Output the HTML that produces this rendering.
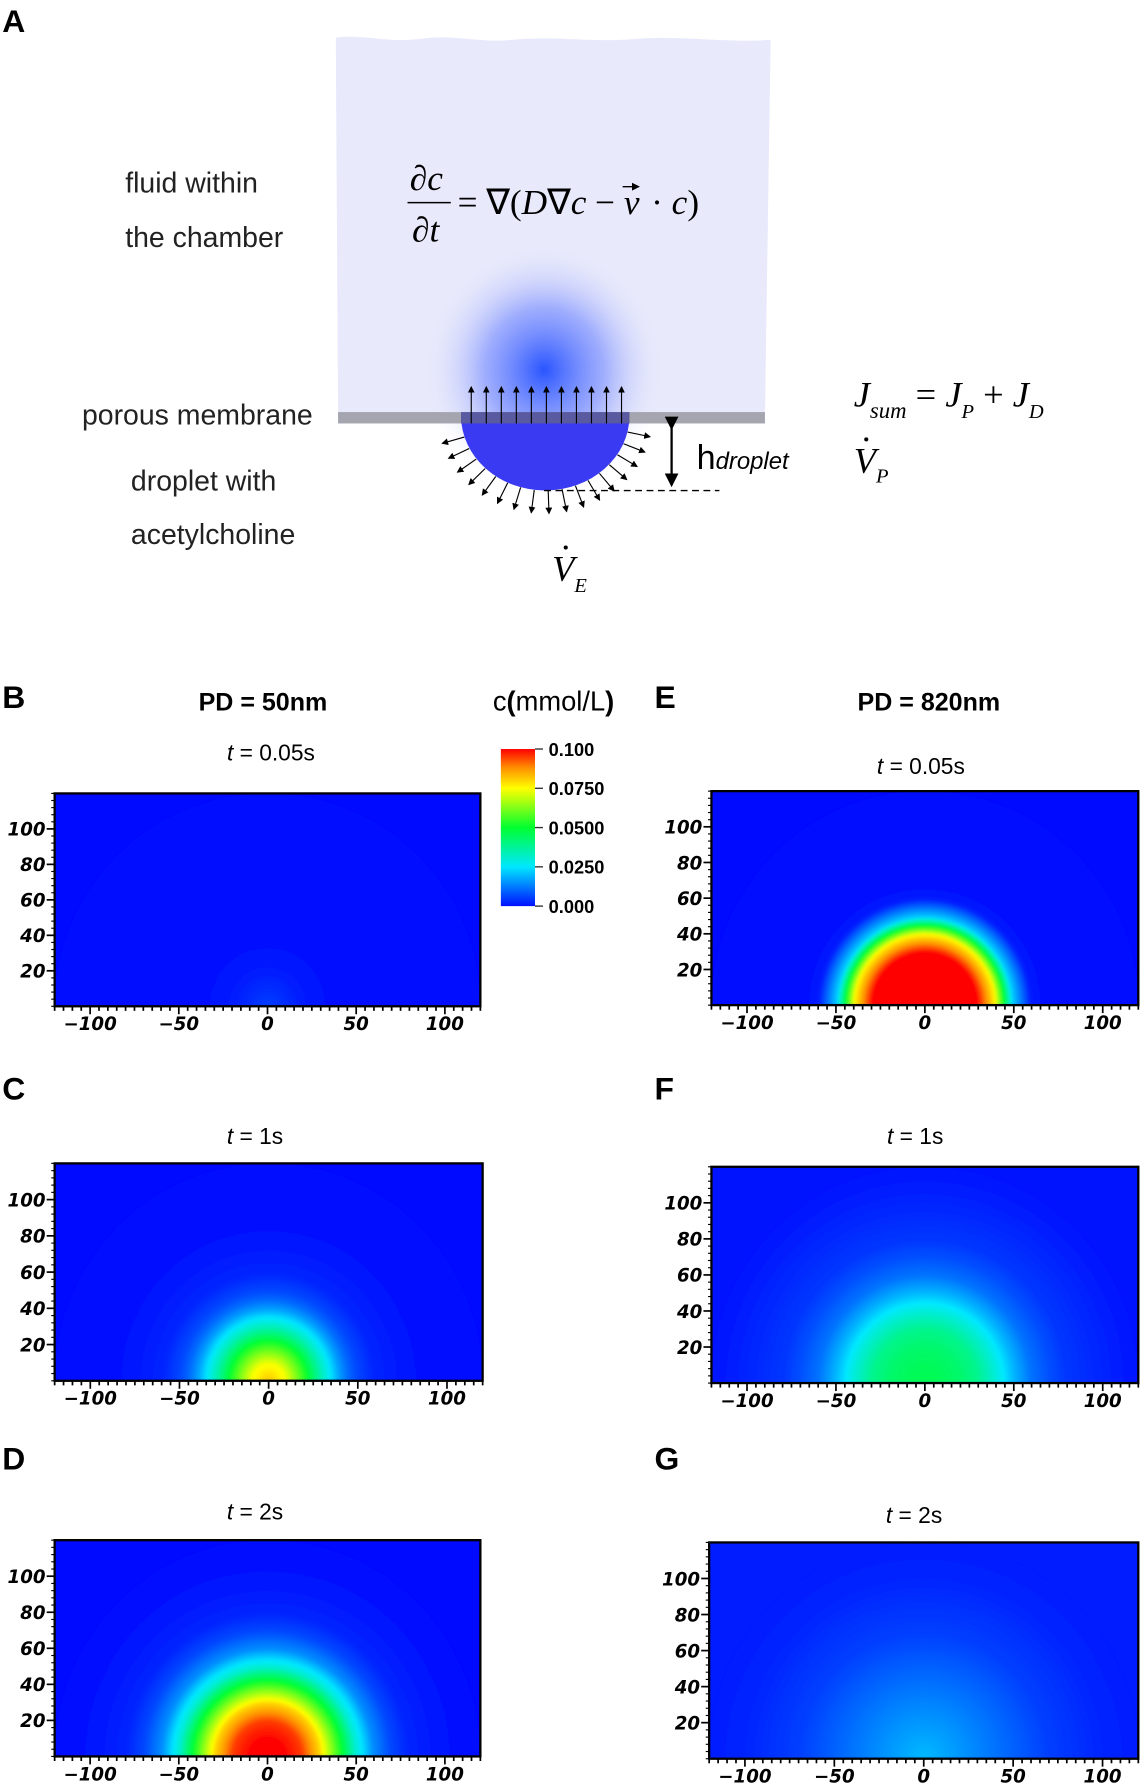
<!DOCTYPE html>
<html><head><meta charset="utf-8"><style>
html,body{margin:0;padding:0;background:#fff;overflow:hidden;width:1144px;height:1789px;}
svg{display:block;}
</style></head><body>
<svg id="fig" xmlns="http://www.w3.org/2000/svg" width="1144" height="1789" viewBox="0 0 1005 1571.6" preserveAspectRatio="none" overflow="hidden">
<defs>
<radialGradient id="glow" cx="0.5" cy="0.5" r="0.5">
<stop offset="0" stop-color="#2a55ff" stop-opacity="1"/>
<stop offset="0.5" stop-color="#6f86ff" stop-opacity="0.6"/>
<stop offset="1" stop-color="#e8e9fb" stop-opacity="0"/>
</radialGradient>
<linearGradient id="cbar" x1="0" y1="1" x2="0" y2="0">
<stop offset="0" stop-color="#0010ff"/>
<stop offset="0.25" stop-color="#00e8ff"/>
<stop offset="0.5" stop-color="#00ff30"/>
<stop offset="0.75" stop-color="#ffff00"/>
<stop offset="0.88" stop-color="#ff9000"/>
<stop offset="1" stop-color="#ff0000"/>
</linearGradient>
<marker id="ah" markerWidth="6" markerHeight="6" refX="5" refY="3" orient="auto"><path d="M0,0 L6,3 L0,6 z" fill="#000"/></marker>
<filter id="soft"><feGaussianBlur stdDeviation="1.2"/></filter>
</defs>

<g>
<text x="2" y="28" font-family="Liberation Sans, sans-serif" font-weight="bold" font-size="28">A</text>
<path d="M295,33 C320,30 340,38 370,34 C400,30 420,38 450,35 C490,31 520,38 560,34 C600,31 640,38 677,35 L672,365 L297,365 Z" fill="#e8e9fb"/>
<ellipse cx="478" cy="325" rx="105" ry="110" fill="url(#glow)"/>
<rect x="297" y="362" width="375" height="10" fill="#a5a5b0"/>
<path d="M405,365 A73,65 0 0 0 553,365 Z" fill="#3a3af2"/>
<rect x="405" y="362" width="148" height="10" fill="#5a5aa0"/>
<g id="uparrows" stroke="#000" stroke-width="1"></g>
<g id="radarrows" stroke="#000" stroke-width="1"></g>
<line x1="590" y1="376" x2="590" y2="426" stroke="#000" stroke-width="2" marker-end="url(#ah)" marker-start="url(#ah)"/>
<line x1="478" y1="431" x2="632" y2="431" stroke="#000" stroke-width="1.2" stroke-dasharray="6,4"/>
<text x="612" y="412" font-family="Liberation Sans, sans-serif" font-size="30">h<tspan font-size="21" font-style="italic">droplet</tspan></text>
<g font-family="Liberation Sans, sans-serif" font-size="25" fill="#222">
<text x="110" y="169">fluid within</text>
<text x="110" y="217">the chamber</text>
<text x="72" y="373">porous membrane</text>
<text x="115" y="431">droplet with</text>
<text x="115" y="478">acetylcholine</text>
</g>
<g font-family="Liberation Serif, serif" font-size="31">
<text x="360" y="167" font-style="italic">∂c</text>
<line x1="358" y1="178" x2="396" y2="178" stroke="#000" stroke-width="1.3"/>
<text x="362" y="212" font-style="italic">∂t</text>
<text x="402" y="188">= ∇(<tspan font-style="italic">D</tspan>∇<tspan font-style="italic">c</tspan> − <tspan font-style="italic">v</tspan></text>
<text x="572" y="188">· <tspan font-style="italic">c</tspan>)</text>
<line x1="547" y1="164" x2="561" y2="164" stroke="#000" stroke-width="1.2" marker-end="url(#ah)"/>
</g>
<g font-family="Liberation Serif, serif" font-style="italic" font-size="32">
<text x="750" y="357">J<tspan font-size="20" dy="10">sum</tspan><tspan dy="-10" font-style="normal"> = </tspan>J<tspan font-size="18" dy="10">P</tspan><tspan dy="-10" font-style="normal"> + </tspan>J<tspan font-size="18" dy="10">D</tspan></text>
<text x="750" y="415">V<tspan font-size="18" dy="9">P</tspan></text>
<circle cx="761" cy="386" r="1.8" fill="#000"/>
<text x="485" y="510">V<tspan font-size="18" dy="10">E</tspan></text>
<circle cx="497" cy="481" r="1.8" fill="#000"/>
</g>
</g>

<g font-family="Liberation Sans, sans-serif">
<text x="2" y="622" font-weight="bold" font-size="28">B</text>
<text x="575" y="622" font-weight="bold" font-size="28">E</text>
<text x="2" y="966" font-weight="bold" font-size="28">C</text>
<text x="575" y="966" font-weight="bold" font-size="28">F</text>
<text x="2" y="1291" font-weight="bold" font-size="28">D</text>
<text x="575" y="1291" font-weight="bold" font-size="28">G</text>
<text x="231" y="624" text-anchor="middle" font-weight="bold" font-size="22">PD = 50nm</text>
<text x="816" y="624" text-anchor="middle" font-weight="bold" font-size="22">PD = 820nm</text>
<text x="433" y="624" font-size="24">c<tspan font-weight="bold">(</tspan>mmol/L<tspan font-weight="bold">)</tspan></text>
</g>
<g>
<rect x="440" y="658" width="30" height="138" fill="url(#cbar)"/>
<g id="cbticks"></g>
</g>
<g id="panels"></g>
</svg>
<script>
// ---- Data: concentration (mmol/L) vs radial distance from droplet centre ----
const radii = [0, 10, 20, 30, 40, 45, 50, 60, 70, 80, 100, 120];
const concB = [0.006, 0.004, 0.002, 0.001, 0.0005, 0, 0, 0, 0, 0, 0, 0];
const concC = [0.082, 0.074, 0.055, 0.034, 0.017, 0.011, 0.007, 0.003, 0.002, 0.001, 0, 0];
const concD = [0.100, 0.100, 0.095, 0.080, 0.056, 0.044, 0.031, 0.015, 0.007, 0.003, 0.001, 0];
const concE = [0.100, 0.100, 0.100, 0.100, 0.076, 0.050, 0.022, 0.002, 0, 0, 0, 0];
const concF = [0.046, 0.045, 0.043, 0.039, 0.030, 0.025, 0.020, 0.012, 0.008, 0.005, 0.003, 0.001];
const concG = [0.020, 0.018, 0.016, 0.014, 0.012, 0.011, 0.010, 0.008, 0.006, 0.005, 0.003, 0.002];
const xTicks = [-100, -50, 0, 50, 100];
const yTicks = [20, 40, 60, 80, 100];
const cbValues = [0.1, 0.075, 0.05, 0.025, 0];
const cbLabels = ["0.100", "0.0750", "0.0500", "0.0250", "0.000"];

const NS = "http://www.w3.org/2000/svg";
function mk(tag, attrs, parent) {
  const e = document.createElementNS(NS, tag);
  for (const k in attrs) e.setAttribute(k, attrs[k]);
  if (parent) parent.appendChild(e);
  return e;
}
const stops = [[0, [0, 10, 255]], [0.025, [0, 232, 255]], [0.05, [0, 255, 48]], [0.075, [255, 255, 0]], [0.088, [255, 144, 0]], [0.1, [255, 0, 0]]];
function cmap(v) {
  v = Math.max(0, Math.min(0.1, v));
  for (let i = 1; i < stops.length; i++) {
    if (v <= stops[i][0]) {
      const t = (v - stops[i-1][0]) / (stops[i][0] - stops[i-1][0]);
      const a = stops[i-1][1], b = stops[i][1];
      return "rgb(" + a.map((c, j) => Math.round(c + (b[j] - c) * t)).join(",") + ")";
    }
  }
  return "rgb(255,0,0)";
}
function valAt(vals, r) {
  if (r >= radii[radii.length-1]) return vals[vals.length-1];
  for (let i = 1; i < radii.length; i++) {
    if (r <= radii[i]) {
      const t = (r - radii[i-1]) / (radii[i] - radii[i-1]);
      return vals[i-1] + (vals[i] - vals[i-1]) * t;
    }
  }
}

const cbg = document.getElementById('cbticks');
cbValues.forEach((v, i) => {
  const y = 796 - v / 0.1 * 138;
  mk('line', {x1: 470, x2: 477, y1: y, y2: y, stroke: '#333', 'stroke-width': 1.2}, cbg);
  const t = mk('text', {x: 482, y: y + 6, 'font-family': 'Liberation Sans, sans-serif', 'font-weight': 'bold', 'font-size': 16}, cbg);
  t.textContent = cbLabels[i];
  
  
});

const panels = [
  {id: 'b', vals: concB, L: 48, R: 422, T: 697, B: 884, time: 't = 0.05s', tx: 238, ty: 668},
  {id: 'c', vals: concC, L: 48, R: 424, T: 1022, B: 1213, time: 't = 1s', tx: 224, ty: 1005},
  {id: 'd', vals: concD, L: 48, R: 422, T: 1353, B: 1543, time: 't = 2s', tx: 224, ty: 1335},
  {id: 'e', vals: concE, L: 625, R: 1000, T: 695, B: 883, time: 't = 0.05s', tx: 809, ty: 680},
  {id: 'f', vals: concF, L: 625, R: 1000, T: 1025, B: 1215, time: 't = 1s', tx: 804, ty: 1005},
  {id: 'g', vals: concG, L: 623, R: 1000, T: 1355, B: 1545, time: 't = 2s', tx: 803, ty: 1338}
];
const root = document.getElementById('panels');
panels.forEach(p => {
  const g = mk('g', {}, root);
  
  
  const xs = v => p.L + (v + 120) / 240 * (p.R - p.L);
  const ys = v => p.B - v / 120 * (p.B - p.T);
  const sx = (p.R - p.L) / 240, sy = (p.B - p.T) / 120;
  const tt = mk('text', {x: p.tx, y: p.ty, 'text-anchor': 'middle', 'font-family': 'Liberation Sans, sans-serif', 'font-size': 20}, g);
  tt.innerHTML = '<tspan font-style="italic">t</tspan>' + p.time.slice(1);
  
  
  const cid = 'clip' + p.id;
  const cp = mk('clipPath', {id: cid}, g);
  mk('rect', {x: p.L, y: p.T, width: p.R - p.L, height: p.B - p.T}, cp);
  const hg = mk('g', {'clip-path': 'url(#' + cid + ')'}, g);
  
  
  mk('rect', {x: p.L, y: p.T, width: p.R - p.L, height: p.B - p.T, fill: cmap(valAt(p.vals, 200))}, hg);
  const inner = mk('g', {filter: 'url(#soft)'}, hg);
  const cx = xs(0), cy = ys(0);
  for (let r = 120; r > 0; r -= 1) {
    const rx = r * sx, ry = r * sy;
    const d = 'M' + (cx - rx) + ',' + cy + ' A' + rx + ',' + ry + ' 0 0 1 ' + (cx + rx) + ',' + cy + ' Z';
    const c = mk('path', {d: d, fill: cmap(valAt(p.vals, r))}, inner);
    
    
  }
  mk('rect', {x: p.L, y: p.T, width: p.R - p.L, height: p.B - p.T, fill: 'none', stroke: '#000', 'stroke-width': 2}, g);
  for (let v = -120; v <= 120; v += 5) {
    const major = v % 50 === 0;
    mk('line', {x1: xs(v), x2: xs(v), y1: p.B, y2: p.B + (major ? 7 : 4), stroke: '#000', 'stroke-width': 1.5}, g);
  }
  xTicks.forEach(v => {
    const t = mk('text', {x: xs(v), y: p.B + 21, 'text-anchor': 'middle', 'font-family': 'DejaVu Sans, sans-serif', 'font-weight': 'bold', 'font-style': 'italic', 'font-size': 16}, g);
    t.textContent = v < 0 ? '\u2212' + (-v) : String(v);
    
    
  });
  for (let v = 0; v <= 120; v += 4) {
    mk('line', {x1: p.L - 3, x2: p.L, y1: ys(v), y2: ys(v), stroke: '#000', 'stroke-width': 1}, g);
  }
  yTicks.forEach(v => {
    mk('line', {x1: p.L - 7, x2: p.L, y1: ys(v), y2: ys(v), stroke: '#000', 'stroke-width': 1.5}, g);
    const t = mk('text', {x: p.L - 8, y: ys(v) + 6, 'text-anchor': 'end', 'font-family': 'DejaVu Sans, sans-serif', 'font-weight': 'bold', 'font-style': 'italic', 'font-size': 16}, g);
    t.textContent = String(v);
    
    
  });
});

const ua = document.getElementById('uparrows');
for (let x = 414; x <= 546; x += 13.2) {
  mk('line', {x1: x, y1: 372, x2: x, y2: 340, 'marker-end': 'url(#ah)'}, ua);
}
const ra = document.getElementById('radarrows');
for (let a = 12; a <= 168; a += 9.5) {
  const rad = a * Math.PI / 180;
  const cx = 479, cy = 366, rx = 74, ry = 65;
  const x1 = cx + rx * Math.cos(rad), y1 = cy + ry * Math.sin(rad);
  const x2 = cx + (rx + 20) * Math.cos(rad), y2 = cy + (ry + 20) * Math.sin(rad);
  mk('line', {x1: x1, y1: y1, x2: x2, y2: y2, 'marker-end': 'url(#ah)'}, ra);
}
</script>
</body></html>
